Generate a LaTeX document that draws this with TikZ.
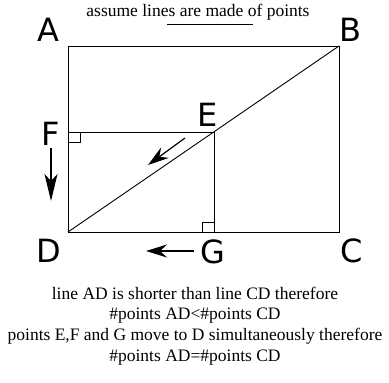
\documentclass[tikz,border=0pt]{standalone}
\usepackage{fontspec}
\setmainfont{Liberation Serif}
\newfontfamily\ptfont{DejaVu Sans}
\usetikzlibrary{arrows.meta}

\begin{document}
\begin{tikzpicture}[x=1pt, y=-1pt, line width=0.9pt,
        ptlabel/.style={inner sep=0pt, font=\ptfont\fontsize{32}{32}\selectfont},
        mover/.style={line width=1.2pt, -{Stealth[length=#1, width=13pt, inset=7pt]}},
        mover/.default=21pt,
        rmark/.style={line width=0.7pt},
        caption/.style={inner sep=0pt, align=center, font=\fontsize{17.5}{20.7}\selectfont}]

        \useasboundingbox (0,0) rectangle (389,383);

        % ====================
        % 1. Rectangle ABCD and the diagonal
        % ====================
        \coordinate (A) at (68,46);
        \coordinate (B) at (339,46);
        \coordinate (C) at (339,232);
        \coordinate (D) at (68,232);
        \coordinate (E) at (214,132);
        \coordinate (F) at (68,132);
        \coordinate (G) at (214,232);

        \draw (A) -- (B) -- (C) -- (D) -- cycle;
        \draw (D) -- (B);
        \draw[line width=0.8pt] (F) -- (E) -- (G);

        % right angles at F and G
        \draw[rmark] (F) rectangle ++(12,10);
        \draw[rmark] (G) rectangle ++(-12,-10);

        % ====================
        % 2. Point labels
        % ====================
        \node[ptlabel] (lA) at (48,30) {A};
        \node[ptlabel] (lB) at (350,30) {B};
        \node[ptlabel] (lC) at (352,251) {C};
        \node[ptlabel] (lD) at (49,251) {D};
        \node[ptlabel] (lE) at (208,115) {E};
        \node[ptlabel] (lF) at (51,134) {F};
        \node[ptlabel] (lG) at (213,252) {G};

        % ====================
        % 3. Points moving towards D
        % ====================
        \coordinate (f1) at (51,148);
        \coordinate (f2) at (51,201);
        \coordinate (e1) at (185,138);
        \coordinate (e2) at (148,165);
        \coordinate (g1) at (194,251);
        \coordinate (g2) at (146,251);

        \draw[mover=27pt] (f1) -- (f2);
        \draw[mover] (e1) -- (e2);
        \draw[mover] (g1) -- (g2);

        % ====================
        % 4. Texts
        % ====================
        \node[caption] (title) at (198,12) {assume lines are made of points};
        \coordinate (u1) at (167,24);
        \coordinate (u2) at (253,24);
        \draw[line width=0.8pt] (u1) -- (u2);

        \node[caption] (note) at (195,326) {line AD is shorter than line CD therefore\\
            \#points AD<\#points CD\\
            points E,F and G move to D simultaneously therefore\\
            \#points AD=\#points CD};

    \end{tikzpicture}
\end{document}
